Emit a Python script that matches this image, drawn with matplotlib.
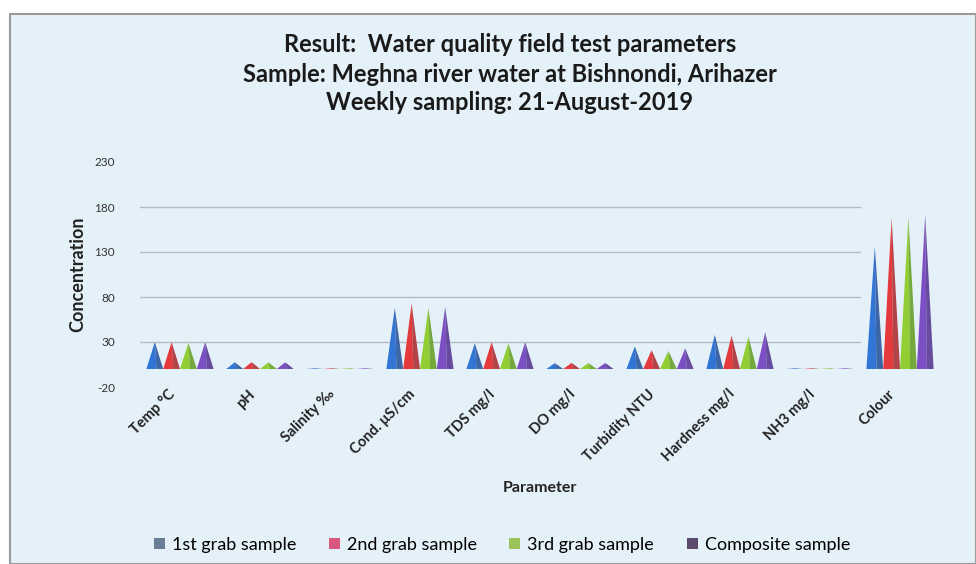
import matplotlib
matplotlib.use("Agg")
import matplotlib.pyplot as plt
import matplotlib.transforms as mtransforms
from matplotlib.patches import Rectangle, Polygon
import numpy as np

categories = ["Temp °C", "pH", "Salinity ‰", "Cond. μS/cm", "TDS mg/l", "DO mg/l",
              "Turbidity NTU", "Hardness mg/l", "NH3 mg/l", "Colour"]
series_names = ["1st grab sample", "2nd grab sample", "3rd grab sample", "Composite sample"]
grab1 = [30, 7.5, 0.3, 68, 28.5, 6.5, 25, 38, 0.4, 136]
grab2 = [30, 7.6, 0.3, 73, 30, 6.8, 21, 37, 0.4, 168]
grab3 = [29, 7.4, 0.3, 68, 28.5, 6.6, 20, 36, 0.4, 169]
composite = [30, 7.5, 0.3, 69, 30, 6.7, 23, 41, 0.4, 171]
yticks = [-20, 30, 80, 130, 180, 230]

series = [grab1, grab2, grab3, composite]
cone_colors = ["#3176d6", "#e53a3d", "#93cd34", "#7d4fc4"]
dark_colors = ["#1f4d99", "#a92429", "#619c1c", "#512e8d"]
legend_colors = ["#6a7d96", "#d9577e", "#9cc25a", "#5b4a6e"]

plt.rcParams['font.family'] = ['Lato', 'DejaVu Sans']

fig = plt.figure(figsize=(9.76, 5.64), dpi=100)
fig.patch.set_facecolor("white")
W, H = 976, 564

# chart area background with frame
bg = Rectangle((10 / W, 0), 1 - 10 / W, 1 - 14 / H, transform=fig.transFigure,
               facecolor="#e5f1f8", edgecolor="#9a9a9a", linewidth=1.5, zorder=-10)
fig.patches.append(bg)

ax = fig.add_axes([140 / W, 1 - 387 / H, 800 / W, 225 / H], zorder=5)
ax.set_facecolor("none")
ax.set_xlim(-0.5, len(categories) - 0.5)
ax.set_ylim(-20, 230)
for s in ax.spines.values():
    s.set_visible(False)

for yv in yticks[1:-1]:
    ax.axhline(yv, xmin=0, xmax=0.9, color="#b3bcc2", lw=1.0, zorder=1)

cone_w = 0.21
offsets = (np.arange(4) - 1.5) * cone_w
for si, vals in enumerate(series):
    for ci, v in enumerate(vals):
        xc = ci + offsets[si]
        h = max(v, 0.8)
        left = Polygon([[xc - cone_w / 2, 0], [xc, h], [xc + cone_w * 0.1, 0]], closed=True,
                       facecolor=cone_colors[si], edgecolor="none", zorder=3)
        right = Polygon([[xc + cone_w * 0.1, 0], [xc, h], [xc + cone_w / 2, 0]], closed=True,
                        facecolor=dark_colors[si], edgecolor="none", zorder=3, alpha=0.85)
        ax.add_patch(left)
        ax.add_patch(right)

ax.set_yticks(yticks)
ax.set_yticklabels([str(t) for t in yticks], fontsize=8.5, color="#333333")
ax.tick_params(axis="y", length=0, pad=18)
ax.set_xticks(range(len(categories)))
ax.set_xticklabels(categories, rotation=45, ha="right", rotation_mode="anchor",
                   fontsize=10.5, fontweight="bold", color="#222222")
ax.tick_params(axis="x", length=0, pad=0)
shift = mtransforms.ScaledTranslation(-12 / 100, 0, fig.dpi_scale_trans)
for lbl in ax.get_xticklabels():
    lbl.set_transform(lbl.get_transform() + shift)

ax.set_ylabel("Concentration", fontsize=13, fontweight="bold", color="#222222", labelpad=6)
ax.set_xlabel("Parameter", fontsize=11.5, fontweight="bold", color="#222222", labelpad=12)

fig.text(510 / W, 1 - 45 / H, "Result:  Water quality field test parameters",
         ha="center", va="center", fontsize=17, fontweight="bold", color="#1a1a1a")
fig.text(510 / W, 1 - 74 / H, "Sample: Meghna river water at Bishnondi, Arihazer",
         ha="center", va="center", fontsize=17, fontweight="bold", color="#1a1a1a")
fig.text(510 / W, 1 - 102 / H, "Weekly sampling: 21-August-2019",
         ha="center", va="center", fontsize=17, fontweight="bold", color="#1a1a1a")

handles = [Rectangle((0, 0), 1, 1, facecolor=c, edgecolor="none") for c in legend_colors]
fig.legend(handles, series_names, loc="center", bbox_to_anchor=(502 / W, 1 - 545 / H),
           ncol=4, frameon=False, fontsize=13, handlelength=0.6, handleheight=0.6,
           columnspacing=1.8, handletextpad=0.4)

fig.savefig("out.png", dpi=100, facecolor=fig.get_facecolor())
